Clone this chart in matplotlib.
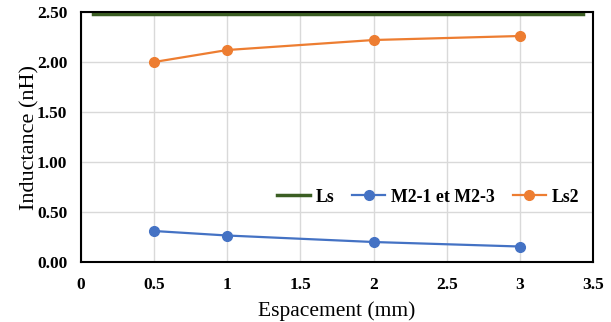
import matplotlib
matplotlib.use("Agg")
import matplotlib.pyplot as plt

# data
espacement = [0.5, 1, 2, 3]
m2 = [0.31, 0.265, 0.20, 0.155]
ls2 = [2.00, 2.12, 2.22, 2.26]
ls_x = [0.08, 3.43]
ls_y = [2.485, 2.485]

xticks = [0, 0.5, 1, 1.5, 2, 2.5, 3, 3.5]
xtick_labels = ['0', '0.5', '1', '1.5', '2', '2.5', '3', '3.5']
yticks = [0.0, 0.5, 1.0, 1.5, 2.0, 2.5]

plt.rcParams['font.family'] = ['Liberation Serif', 'DejaVu Serif']

fig = plt.figure(figsize=(6.11, 3.22), dpi=100)
ax = fig.add_axes([0.1326, 0.1863, 0.8379, 0.7764])

ax.plot(ls_x, ls_y, color='#3B5E23', lw=2.5, label='Ls')
ax.plot(espacement, m2, color='#4472C4', lw=1.6, marker='o', ms=7, label='M2-1 et M2-3')
ax.plot(espacement, ls2, color='#ED7D31', lw=1.6, marker='o', ms=7, label='Ls2')

ax.set_xlim(0, 3.5)
ax.set_ylim(0, 2.5)
ax.set_xticks(xticks)
ax.set_xticklabels(xtick_labels)
ax.set_yticks(yticks)
ax.set_yticklabels([f'{v:.2f}' for v in yticks])
ax.grid(True, color='#D9D9D9', lw=1)
ax.set_axisbelow(True)
ax.tick_params(length=0, labelsize=12.5)
ax.tick_params(axis='x', pad=11)
ax.tick_params(axis='y', pad=10)
for lab in ax.get_xticklabels() + ax.get_yticklabels():
    lab.set_fontweight('bold')
for s in ax.spines.values():
    s.set_color('black')
    s.set_linewidth(1.5)

ax.set_xlabel('Espacement (mm)', fontsize=15.5, labelpad=6)
ax.set_ylabel('Inductance (nH)', fontsize=16, labelpad=-2)

ax.legend(loc='center right', bbox_to_anchor=(1.005, 0.26), ncol=3, frameon=False,
          prop={'weight': 'bold', 'size': 12.8}, handlelength=1.85, columnspacing=1.0,
          handletextpad=0.35)

fig.savefig('out.png', dpi=100)
